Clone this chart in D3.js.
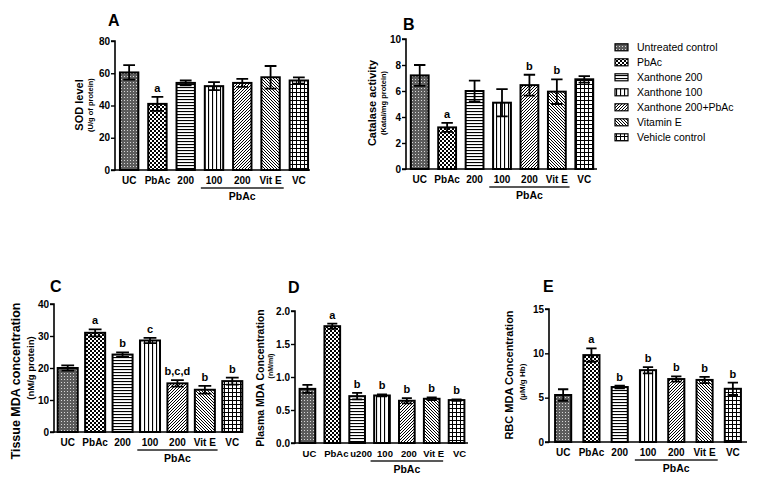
<!DOCTYPE html>
<html><head><meta charset="utf-8">
<script src="https://cdn.jsdelivr.net/npm/d3@7"></script>
<style>body{margin:0;background:#fff;} text{font-family:"Liberation Sans",Arial,sans-serif;}</style>
</head><body>
<svg id="c" width="780" height="485"></svg>
<script>
// ---------- DATA ----------
const categories = ["UC","PbAc","200","100","200","Vit E","VC"];
const categoriesD = ["UC","PbAc","u200","100","200","Vit E","VC"];
const legendLabels = ["Untreated control","PbAc","Xanthone 200","Xanthone 100","Xanthone 200+PbAc","Vitamin E","Vehicle control"];
const groupLabel = "PbAc";

const sodMean = [60.5, 41, 54, 52, 54, 57.5, 55.5];
const sodErr  = [4.5, 4.3, 1.5, 2.5, 2.5, 7, 2];
const sodLetters = ["", "a", "", "", "", "", ""];
const sodTicks = [0, 20, 40, 60, 80];

const catMean = [7.2, 3.2, 6.0, 5.1, 6.45, 5.95, 6.9];
const catErr  = [0.8, 0.35, 0.8, 1.05, 0.8, 0.95, 0.25];
const catLetters = ["", "a", "", "", "b", "b", ""];
const catTicks = [0, 2, 4, 6, 8, 10];

const tisMean = [20, 31, 24.2, 28.6, 15.2, 13.2, 15.9];
const tisErr  = [0.8, 1.1, 0.7, 0.8, 1.0, 1.2, 1.1];
const tisLetters = ["", "a", "b", "c", "b,c,d", "b", "b"];
const tisTicks = [0, 10, 20, 30, 40];

const plaMean = [0.82, 1.77, 0.71, 0.72, 0.64, 0.67, 0.65];
const plaErr  = [0.06, 0.04, 0.05, 0.015, 0.04, 0.02, 0.01];
const plaLetters = ["", "a", "b", "b", "b", "b", "b"];
const plaTicks = [0, 0.5, 1.0, 1.5, 2.0];

const rbcMean = [5.3, 9.8, 6.2, 8.1, 7.1, 7.0, 6.0];
const rbcErr  = [0.65, 0.75, 0.15, 0.35, 0.3, 0.35, 0.7];
const rbcLetters = ["", "a", "b", "b", "b", "b", "b"];
const rbcTicks = [0, 5, 10, 15];

// ---------- PATTERNS ----------
const svg = d3.select("#c");
const defs = svg.append("defs");
function pat(id, size, build){
  const p = defs.append("pattern").attr("id", id).attr("patternUnits","userSpaceOnUse")
    .attr("width", size).attr("height", size);
  build(p, size);
}
pat("p0", 3, (p,s)=>{ p.append("rect").attr("width",s).attr("height",s).attr("fill","#5c5c5c");
  p.append("rect").attr("x",1).attr("y",1).attr("width",1).attr("height",1).attr("fill","#d8d8d8"); });
pat("p1", 4, (p,s)=>{ p.append("rect").attr("width",s).attr("height",s).attr("fill","#fff");
  p.append("rect").attr("width",2).attr("height",2).attr("fill","#000");
  p.append("rect").attr("x",2).attr("y",2).attr("width",2).attr("height",2).attr("fill","#000"); });
pat("p2", 3, (p,s)=>{ p.append("rect").attr("width",s).attr("height",s).attr("fill","#fff");
  p.append("rect").attr("width",s).attr("height",1.1).attr("fill","#000"); });
pat("p3", 4, (p,s)=>{ p.append("rect").attr("width",s).attr("height",s).attr("fill","#fff");
  p.append("rect").attr("width",1.1).attr("height",s).attr("fill","#000"); });
pat("p4", 3, (p,s)=>{ p.append("rect").attr("width",s).attr("height",s).attr("fill","#fff");
  p.append("path").attr("d","M-1,1 L1,-1 M0,3 L3,0 M2,4 L4,2").attr("stroke","#000").attr("stroke-width",1); });
pat("p5", 3, (p,s)=>{ p.append("rect").attr("width",s).attr("height",s).attr("fill","#fff");
  p.append("path").attr("d","M-1,2 L1,4 M0,0 L3,3 M2,-1 L4,1").attr("stroke","#000").attr("stroke-width",1); });
pat("p6", 4, (p,s)=>{ p.append("rect").attr("width",s).attr("height",s).attr("fill","#fff");
  p.append("rect").attr("width",1).attr("height",s).attr("fill","#000");
  p.append("rect").attr("width",s).attr("height",1).attr("fill","#000"); });
const fills = d3.range(7).map(i => `url(#p${i})`);

// ---------- PANEL ----------
function panel(o){
  const g = svg.append("g");
  const idx = d3.range(o.labels.length);
  const x = d3.scaleBand().domain(idx).range([o.x0, o.x1]).paddingInner(o.pad).paddingOuter(o.pad/2);
  const y = d3.scaleLinear().domain([0, o.max]).range([o.yb, o.yt]);
  const ya = g.append("g").attr("transform",`translate(${o.x0},0)`)
    .call(d3.axisLeft(y).tickValues(o.ticks).tickSize(4).tickFormat(o.fmt || d3.format("d")));
  ya.select(".domain").attr("stroke","#000").attr("stroke-width",1.6).attr("d",`M-4,${o.yt}H0V${o.yb}H-4`);
  ya.selectAll(".tick line").attr("stroke","#000").attr("stroke-width",1.4);
  ya.selectAll(".tick text").attr("font-size",10).attr("font-weight","bold").attr("fill","#000")
    .attr("font-family","Liberation Sans, Arial, sans-serif").attr("x",-5);
  g.append("line").attr("x1",o.x0).attr("x2",o.xe).attr("y1",o.yb).attr("y2",o.yb)
    .attr("stroke","#000").attr("stroke-width",1.6);
  g.selectAll("rect.bar").data(idx).join("rect").attr("class","bar")
    .attr("x", i => x(i)).attr("width", x.bandwidth())
    .attr("y", i => y(o.mean[i])).attr("height", i => o.yb - y(o.mean[i]))
    .attr("fill", i => fills[i]).attr("stroke","#000").attr("stroke-width",2);
  const cw = x.bandwidth()*0.32;
  idx.forEach(i => {
    const cx = x(i) + x.bandwidth()/2;
    const lo = y(o.mean[i]-o.err[i]), hi = y(o.mean[i]+o.err[i]);
    g.append("path").attr("d",`M${cx},${lo}V${hi}M${cx-cw},${hi}H${cx+cw}M${cx-cw},${lo}H${cx+cw}`)
      .attr("stroke","#000").attr("stroke-width",1.8).attr("fill","none");
    if (o.letters[i]) g.append("text").attr("x",cx).attr("y",hi-5).attr("text-anchor","middle")
      .attr("font-size",11).attr("font-weight","bold").text(o.letters[i]);
  });
  g.selectAll("text.cat").data(idx).join("text").attr("class","cat")
    .attr("x", i => x(i)+x.bandwidth()/2 + (o.cshift ? o.cshift[i] : 0)).attr("y", o.yb+14).attr("text-anchor","middle")
    .attr("font-size",o.cfs || 10).attr("font-weight","bold").text(i => o.labels[i]);
  const ux1 = x(3) - x.step()*o.pad/2 + 1, ux2 = x(5) + x.bandwidth() + x.step()*o.pad/2 - 1;
  g.append("line").attr("x1",ux1).attr("x2",ux2).attr("y1",o.yb+18).attr("y2",o.yb+18)
    .attr("stroke","#222").attr("stroke-width",1.3);
  g.append("text").attr("x",(ux1+ux2)/2).attr("y",o.yb+30).attr("text-anchor","middle")
    .attr("font-size",10.5).attr("font-weight","bold").text(groupLabel);
  g.append("text").attr("transform",`translate(${o.lx},${o.ly}) rotate(-90)`).attr("text-anchor","middle")
    .attr("font-size",o.lfs).attr("font-weight","bold").text(o.ylabel);
  g.append("text").attr("transform",`translate(${o.sx},${o.sy}) rotate(-90)`).attr("text-anchor","middle")
    .attr("font-size",o.sfs).attr("font-weight","bold").text(o.sub);
  g.append("text").attr("x",o.tx).attr("y",o.ty).attr("font-size",16).attr("font-weight","bold").text(o.title);
}

panel({labels:categories, mean:sodMean, err:sodErr, letters:sodLetters, ticks:sodTicks, max:80,
  x0:115, x1:313, xe:310, pad:0.35, yt:41, yb:170, title:"A", tx:108, ty:26,
  ylabel:"SOD level", lx:83, ly:105, lfs:11, sub:"(U/g of protein)", sx:93, sy:105, sfs:7.5});
panel({labels:categories, mean:catMean, err:catErr, letters:catLetters, ticks:catTicks, max:10,
  x0:406, x1:598, xe:597, pad:0.35, yt:39, yb:169, title:"B", tx:403, ty:30,
  ylabel:"Catalase activity", lx:376, ly:103, lfs:11, sub:"(Katal/mg protein)", sx:386, sy:103, sfs:7.5});
panel({labels:categories, mean:tisMean, err:tisErr, letters:tisLetters, ticks:tisTicks, max:40,
  x0:54, x1:246, xe:240, pad:0.27, yt:304, yb:432, title:"C", tx:50, ty:292,
  ylabel:"Tissue MDA concentration", lx:20, ly:381, lfs:12.5, sub:"(nM/g protein)", sx:34, sy:368, sfs:9.5});
panel({labels:categoriesD, mean:plaMean, err:plaErr, letters:plaLetters, ticks:plaTicks, max:2, fmt:d3.format(".1f"),
  x0:295, x1:469, xe:468, pad:0.37, yt:311, yb:443, title:"D", tx:288, ty:293, cfs:9.5, cshift:[2,4,4,3,2,2,3],
  ylabel:"Plasma MDA Concentration", lx:264, ly:378, lfs:10.5, sub:"(nM/ml)", sx:273, sy:366, sfs:7});
panel({labels:categories, mean:rbcMean, err:rbcErr, letters:rbcLetters, ticks:rbcTicks, max:15,
  x0:549, x1:747, xe:747, pad:0.43, yt:309, yb:442, title:"E", tx:543, ty:292,
  ylabel:"RBC MDA Concentration", lx:513, ly:375, lfs:11, sub:"(\u00b5M/g Hb)", sx:525, sy:382, sfs:8});

const leg = svg.append("g");
const rowY = d3.scaleLinear().domain([0,6]).range([47.3,137.3]);
legendLabels.forEach((t,i) => {
  leg.append("rect").attr("x",615).attr("y",rowY(i)-3.5).attr("width",13).attr("height",7)
    .attr("fill",fills[i]).attr("stroke","#000").attr("stroke-width",1.2);
  leg.append("text").attr("x",637).attr("y",rowY(i)+3.8).attr("font-size",10.5).text(t);
});
</script>
</body></html>
